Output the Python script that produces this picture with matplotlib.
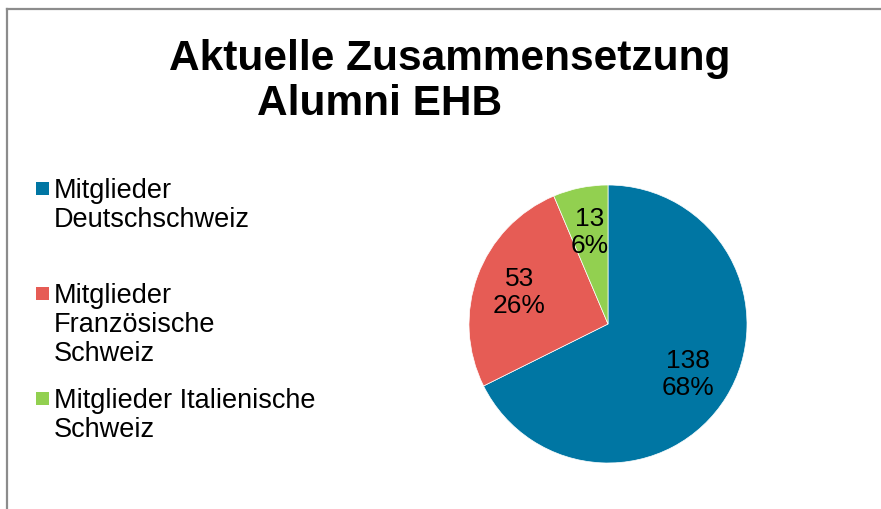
import matplotlib
matplotlib.use("Agg")
import matplotlib.pyplot as plt
from matplotlib.lines import Line2D
from matplotlib.patches import Rectangle

# ---------------------------------------------------------------------------
# Data
# ---------------------------------------------------------------------------
labels = [
    "Mitglieder\nDeutschschweiz",
    "Mitglieder\nFranzösische\nSchweiz",
    "Mitglieder Italienische\nSchweiz",
]
counts = [138, 53, 13]
colors = ["#0076A3", "#E65C55", "#92D050"]
title_lines = ["Aktuelle Zusammensetzung", "Alumni EHB"]

plt.rcParams["font.family"] = ["Liberation Sans", "DejaVu Sans"]

W, H = 881, 510
fig = plt.figure(figsize=(W / 100, H / 100), dpi=100)
fig.patch.set_facecolor("white")

# chart frame (only top and left edge visible in the crop)
fig.add_artist(Line2D([7 / W, 7 / W], [0, 1 - 10 / H], transform=fig.transFigure,
                      color="#8c8c8c", linewidth=1.6))
fig.add_artist(Line2D([7 / W, 1], [1 - 10 / H, 1 - 10 / H], transform=fig.transFigure,
                      color="#8c8c8c", linewidth=1.6))

# title (two lines, Excel-style offset)
fig.text(450 / W, 1 - 59 / H, title_lines[0], ha="center", va="center",
         fontsize=30.5, fontweight="bold")
fig.text(380 / W, 1 - 104 / H, title_lines[1], ha="center", va="center",
         fontsize=30.5, fontweight="bold")

# pie
cx, cy, r = 608, 325, 139
ax = fig.add_axes([(cx - r) / W, (H - cy - r) / H, 2 * r / W, 2 * r / H])
total = sum(counts)


def fmt(p):
    return f"{round(p * total / 100)}\n{p:.0f}%"


wedges, _, autotexts = ax.pie(counts, colors=colors, startangle=90, counterclock=False,
                              autopct=fmt, pctdistance=0.68,
                              wedgeprops=dict(linewidth=0.5, edgecolor="white"),
                              textprops=dict(fontsize=19, color="black", linespacing=1.15))
ax.set_xlim(-1, 1)
ax.set_ylim(-1, 1)
ax.set_aspect("equal")
ax.axis("off")

# legend, drawn by hand to match the spacing of the original
lx, ly0, step = 36 / W, 1 - 178 / H, 105 / H
for i, (lab, col) in enumerate(zip(labels, colors)):
    y = ly0 - i * step
    fig.add_artist(Rectangle((lx, y - 18 / H), 13 / W, 13 / H, transform=fig.transFigure,
                             facecolor=col, edgecolor="none"))
    fig.text(lx + 18 / W, y, lab, ha="left", va="top", fontsize=19.5, linespacing=1.15)

fig.savefig("out.png", dpi=100, facecolor="white")
